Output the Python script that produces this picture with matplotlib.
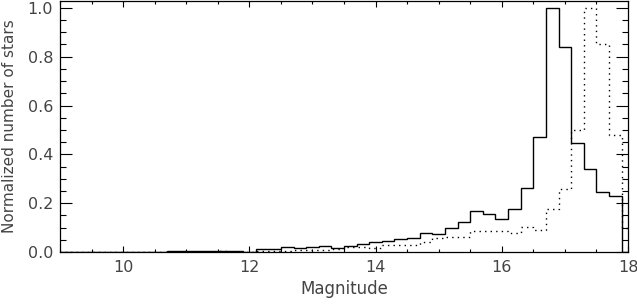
import numpy as np
import matplotlib
matplotlib.use('Agg')
import matplotlib.pyplot as plt
from matplotlib.ticker import MultipleLocator

# bin edges every 0.2 mag, from 8.9 to 18.1
bin_edges = np.round(np.arange(8.9, 18.11, 0.2), 2)

# solid histogram (normalized), one value per bin
solid_vals = [0.0, 0.0, 0.001, 0.001, 0.001, 0.001, 0.001, 0.001, 0.002, 0.005,
              0.003, 0.003, 0.003, 0.006, 0.004, 0.002, 0.011, 0.012, 0.019, 0.015,
              0.019, 0.023, 0.017, 0.024, 0.033, 0.042, 0.046, 0.052, 0.058, 0.076,
              0.072, 0.097, 0.121, 0.166, 0.155, 0.135, 0.178, 0.262, 0.473, 1.0,
              0.838, 0.446, 0.339, 0.246, 0.23, 0.0]

# dotted histogram (normalized)
dotted_vals = [0.0, 0.0, 0.0, 0.001, 0.001, 0.001, 0.001, 0.001, 0.001, 0.002,
               0.002, 0.002, 0.002, 0.003, 0.002, 0.002, 0.004, 0.006, 0.006, 0.007,
               0.01, 0.01, 0.012, 0.02, 0.02, 0.016, 0.029, 0.029, 0.03, 0.04,
               0.058, 0.06, 0.062, 0.085, 0.087, 0.087, 0.076, 0.102, 0.09, 0.178,
               0.258, 0.5, 1.0, 0.852, 0.478, 0.10]

plt.rcParams['font.family'] = ['DejaVu Sans']
txt_color = '#444444'

fig = plt.figure(figsize=(6.37, 3.04), dpi=100)
ax = fig.add_axes([60/637, 52/304, 568/637, 251/304])

ax.stairs(solid_vals, bin_edges, color='black', lw=1.0)
ax.stairs(dotted_vals, bin_edges, color='black', lw=1.0, linestyle=(0, (1, 3)))

ax.set_xlim(9, 18)
ax.set_ylim(0, 1.028)

ax.xaxis.set_major_locator(MultipleLocator(2))
ax.xaxis.set_minor_locator(MultipleLocator(0.5))
ax.yaxis.set_major_locator(MultipleLocator(0.2))
ax.yaxis.set_minor_locator(MultipleLocator(0.05))
ax.yaxis.set_major_formatter(matplotlib.ticker.FormatStrFormatter('%.1f'))

ax.tick_params(axis='x', which='major', direction='in', length=4.5, width=0.8,
               top=True, bottom=True, labelsize=11.5, labelcolor=txt_color, pad=6)
ax.tick_params(axis='x', which='minor', direction='in', length=2.2, width=0.8,
               top=True, bottom=True)
ax.tick_params(axis='y', which='major', direction='in', length=8.5, width=0.8,
               left=True, right=True, labelsize=11.5, labelcolor=txt_color, pad=5)
ax.tick_params(axis='y', which='minor', direction='in', length=4.3, width=0.8,
               left=True, right=True)

for s in ax.spines.values():
    s.set_linewidth(0.9)

ax.set_xlabel('Magnitude', fontsize=12, color=txt_color, labelpad=3)
ax.set_ylabel('Normalized number of stars', fontsize=11, color=txt_color)
ax.yaxis.set_label_coords(-0.076, 0.5)

fig.savefig('out.png', dpi=100)
